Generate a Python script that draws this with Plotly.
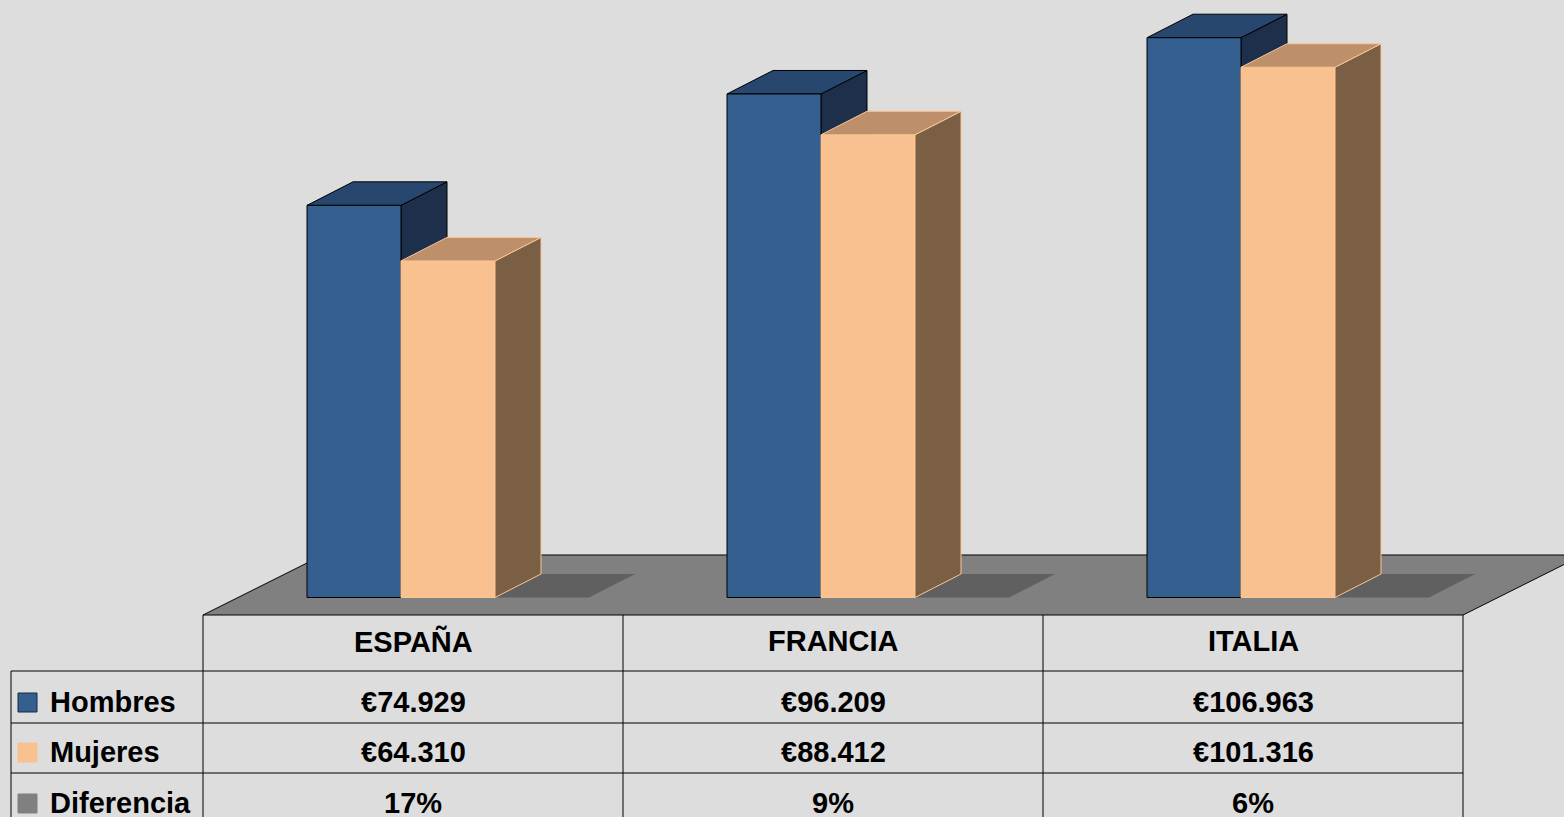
import plotly.graph_objects as go

# ---------------- data ----------------
categories = ["ESPAÑA", "FRANCIA", "ITALIA"]
series_names = ["Hombres", "Mujeres", "Diferencia"]
hombres = [74929, 96209, 106963]
mujeres = [64310, 88412, 101316]
diferencia = [0.17, 0.09, 0.06]

# ---------------- styles / geometry ----------------
W, H = 1564, 817
BG = "#DDDDDD"
FONT = "Liberation Sans, Arial, sans-serif"
FSIZE = 29

COLORS = {
    "Hombres": {"front": "#355F8F", "top": "#27476E", "side": "#1E2F4B", "line": "#000000"},
    "Mujeres": {"front": "#F9C18F", "top": "#BD8F6A", "side": "#7B5F45", "line": "#FAC594"},
    "Diferencia": {"front": "#606060", "top": "#606060", "side": "#505050", "line": "#606060"},
}
LEGEND_COLORS = {"Hombres": "#355F8F", "Mujeres": "#F9C18F", "Diferencia": "#808080"}
FLOOR = "#808080"

X0_PX = 413.0          # pixel x of first category centre (front plane)
COL_PX = 420.0         # pixel width of one category
Y0_PX = 597.5          # pixel y of value 0 at bar front
PX_PER_UNIT = 5.2336e-3

x_range = [-X0_PX / COL_PX, (W - X0_PX) / COL_PX]
y_range = [-(H - Y0_PX) / PX_PER_UNIT, Y0_PX / PX_PER_UNIT]


def dx(px):
    return px / COL_PX


def dy(px):
    return px / PX_PER_UNIT


def xpx(px):  # absolute pixel -> x data
    return (px - X0_PX) / COL_PX


def ypaper(py):
    return 1 - py / H


def xpaper(px):
    return px / W


BAR_W = dx(94)
SHIFT = dx(35)
offsets = [SHIFT - 1.5 * BAR_W, SHIFT - 0.5 * BAR_W, SHIFT + 0.5 * BAR_W]
DX, DY = dx(46), dy(23.5)
FLOOR_FRONT_Y = dy(-17.5)
FDX, FDY = dx(120), dy(60)

series_vals = [hombres, mujeres, diferencia]
xs = list(range(len(categories)))

fig = go.Figure()
for name, vals, off in zip(series_names, series_vals, offsets):
    c = COLORS[name]
    fig.add_trace(go.Bar(
        x=xs, y=vals, width=BAR_W, offset=off, name=name,
        marker=dict(color=c["front"], line=dict(color=c["line"], width=1 if name != "Diferencia" else 0)),
        showlegend=False, hoverinfo="skip",
    ))

shapes = []


def poly(pts, fill, line_color, line_width=1, layer="below", xref="x", yref="y"):
    path = "M " + " L ".join(f"{x},{y}" for x, y in pts) + " Z"
    return dict(type="path", path=path, xref=xref, yref=yref, fillcolor=fill,
                line=dict(color=line_color, width=line_width), layer=layer)


# floor
n = len(categories)
shapes.append(poly([(-0.5, FLOOR_FRONT_Y), (n - 0.5, FLOOR_FRONT_Y),
                    (n - 0.5 + FDX, FLOOR_FRONT_Y + FDY), (-0.5 + FDX, FLOOR_FRONT_Y + FDY)],
                   FLOOR, "#000000", 1, "below"))


def faces(i, off, v, c, layer, lw=1):
    x0 = i + off
    x1 = x0 + BAR_W
    top = poly([(x0, v), (x1, v), (x1 + DX, v + DY), (x0 + DX, v + DY)], c["top"], c["line"], lw, layer)
    side = poly([(x1, 0), (x1, v), (x1 + DX, v + DY), (x1 + DX, DY)], c["side"], c["line"], lw, layer)
    return side, top


# Diferencia (flat on floor)
for i, v in enumerate(diferencia):
    side, top = faces(i, offsets[2], v, COLORS["Diferencia"], "below", 0)
    shapes.append(top)
# Hombres side/top under traces (Mujeres front covers them)
for i, v in enumerate(hombres):
    side, top = faces(i, offsets[0], v, COLORS["Hombres"], "below")
    shapes.extend([side, top])
# Mujeres side/top above traces
for i, v in enumerate(mujeres):
    side, top = faces(i, offsets[1], v, COLORS["Mujeres"], "above")
    shapes.extend([side, top])

# ---------------- data table ----------------
HEADER_TOP = 615
ROW_LINES = [671, 723, 773]
TABLE_LEFT = 11
LINE = dict(color="#000000", width=1)
for k in range(n + 1):
    shapes.append(dict(type="line", xref="x", yref="paper", x0=k - 0.5, x1=k - 0.5,
                       y0=ypaper(HEADER_TOP), y1=0, line=LINE, layer="above"))
shapes.append(dict(type="line", xref="x", yref="paper", x0=xpx(TABLE_LEFT), x1=xpx(TABLE_LEFT),
                   y0=ypaper(ROW_LINES[0]), y1=0, line=LINE, layer="above"))
for r in ROW_LINES:
    shapes.append(dict(type="line", xref="x", yref="paper", x0=xpx(TABLE_LEFT), x1=n - 0.5,
                       y0=ypaper(r), y1=ypaper(r), line=LINE, layer="above"))

HEADER_TEXT_Y = 641
ROW_TEXT_Y = [701.5, 751.5, 802.5]
annotations = []
for i, cat in enumerate(categories):
    annotations.append(dict(x=i, y=ypaper(HEADER_TEXT_Y), xref="x", yref="paper", text=cat,
                            showarrow=False, xanchor="center", yanchor="middle",
                            font=dict(family=FONT, size=FSIZE, color="#000000", weight="bold")))


def fmt_eur(v):
    return "€" + f"{v:,}".replace(",", ".")


def fmt_pct(v):
    return f"{round(v * 100)}%"


row_texts = [[fmt_eur(v) for v in hombres], [fmt_eur(v) for v in mujeres], [fmt_pct(v) for v in diferencia]]
for r, (name, texts) in enumerate(zip(series_names, row_texts)):
    ty = ROW_TEXT_Y[r]
    annotations.append(dict(x=xpaper(48), y=ypaper(ty), xref="paper", yref="paper", text=name,
                            showarrow=False, xanchor="left", yanchor="middle",
                            font=dict(family=FONT, size=FSIZE, color="#000000", weight="bold")))
    shapes.append(dict(type="rect", xref="paper", yref="paper",
                       x0=xpaper(18), x1=xpaper(37), y0=ypaper(ty + 10.5), y1=ypaper(ty - 8.5),
                       fillcolor=LEGEND_COLORS[name],
                       line=dict(color="#1A2A40" if name == "Hombres" else LEGEND_COLORS[name], width=1),
                       layer="above"))
    for i, t in enumerate(texts):
        annotations.append(dict(x=i, y=ypaper(ty), xref="x", yref="paper", text=t,
                                showarrow=False, xanchor="center", yanchor="middle",
                                font=dict(family=FONT, size=FSIZE, color="#000000", weight="bold")))

fig.update_layout(
    width=W, height=H,
    margin=dict(l=0, r=0, t=0, b=0, pad=0),
    paper_bgcolor=BG, plot_bgcolor=BG,
    barmode="overlay",
    xaxis=dict(range=x_range, visible=False, fixedrange=True),
    yaxis=dict(range=y_range, visible=False, fixedrange=True),
    shapes=shapes, annotations=annotations,
    hovermode=False,
)

fig.write_html(
    "out.html",
    config={"displayModeBar": False},
    post_script="document.body.style.margin='0';document.body.style.overflow='hidden';",
)
